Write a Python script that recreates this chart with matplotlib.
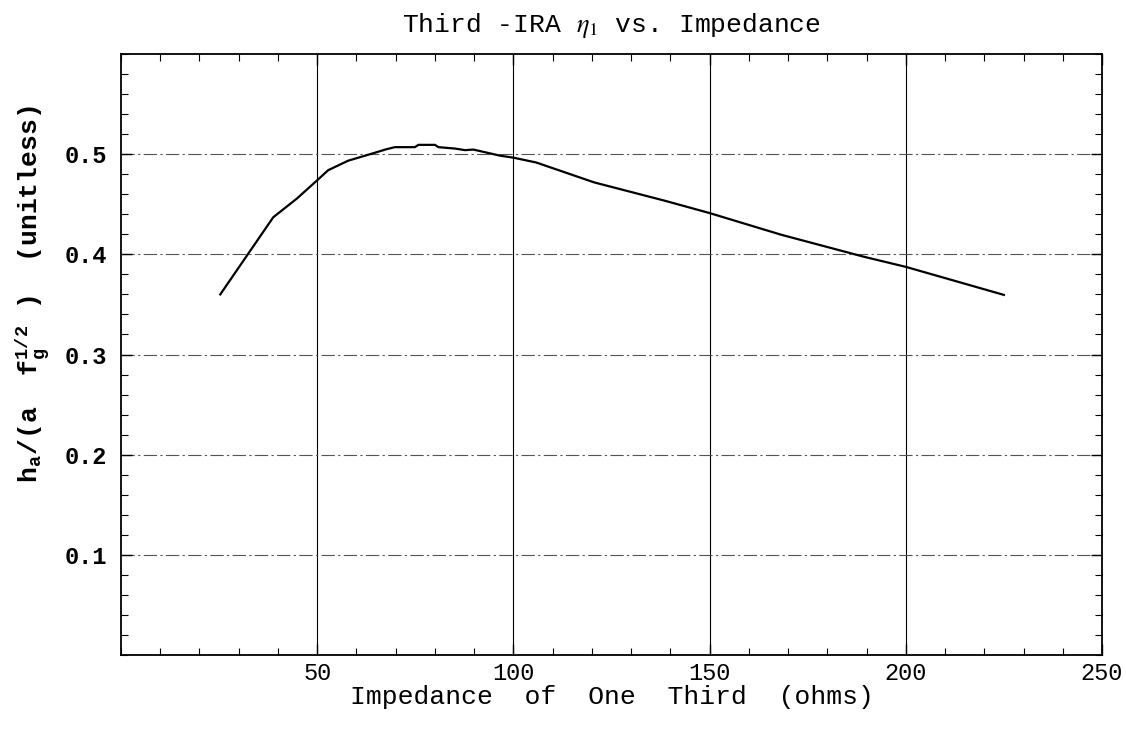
import matplotlib
matplotlib.use("Agg")
import matplotlib.pyplot as plt
from matplotlib.ticker import MultipleLocator, FixedLocator

plt.rcParams['font.family'] = ['Liberation Mono', 'DejaVu Sans']
plt.rcParams['mathtext.fontset'] = 'stix'

# Impedance of one third (ohms) and normalized aperture height
impedance = [25.3, 38.8, 44.8, 50.3, 52.8, 57.9, 63.5, 67.7, 69.8, 74.9, 75.8,
             80.0, 80.9, 85.1, 87.7, 89.8, 96.6, 100.0, 105.8, 120.6, 138.6,
             150.0, 168.3, 189.4, 200.0, 225.0]
ha_norm = [0.360, 0.437, 0.4556, 0.475, 0.484, 0.4935, 0.500, 0.505, 0.507,
           0.507, 0.5093, 0.5093, 0.507, 0.5056, 0.504, 0.5046, 0.4985, 0.4965,
           0.4917, 0.4718, 0.4535, 0.4412, 0.4195, 0.3975, 0.3875, 0.3595]

x_ticks = [50, 100, 150, 200, 250]
y_ticks = [0.1, 0.2, 0.3, 0.4, 0.5]

W, H = 1126, 730
fig = plt.figure(figsize=(W / 100, H / 100), dpi=100)
ax = fig.add_axes([121 / W, 1 - 655 / H, (1102 - 121) / W, (655 - 54) / H])

ax.set_xlim(0, 250)
ax.set_ylim(0, 0.6)

# grid
for xv in x_ticks[:-1]:
    ax.axvline(xv, color='black', lw=0.8, zorder=1)
for yv in y_ticks:
    ax.axhline(yv, color='#555555', lw=0.8, ls=(0, (12, 3, 2, 3)), zorder=1)

ax.plot(impedance, ha_norm, color='black', lw=1.6, zorder=3)

ax.xaxis.set_major_locator(FixedLocator(x_ticks))
ax.yaxis.set_major_locator(FixedLocator(y_ticks))
ax.xaxis.set_minor_locator(MultipleLocator(10))
ax.yaxis.set_minor_locator(MultipleLocator(0.02))
ax.set_xticklabels([str(v) for v in x_ticks])
ax.set_yticklabels([f"{v:.1f}" for v in y_ticks])

ax.tick_params(which='both', direction='in', top=True, right=True, color='black')
ax.tick_params(which='major', length=8, width=1.0, labelsize=17)
ax.tick_params(which='minor', length=5, width=0.8)
ax.tick_params(axis='x', which='major', pad=5)
ax.tick_params(axis='y', which='major', pad=10)
for lab in ax.get_yticklabels():
    lab.set_fontweight('bold')

for sp in ax.spines.values():
    sp.set_linewidth(1.3)
    sp.set_color('black')

ax.set_xlabel('Impedance  of  One  Third  (ohms)', fontsize=19)
ax.xaxis.set_label_coords(0.5, -0.050)

ax.set_ylabel(r'h$_\mathregular{a}$/(a  f$_\mathregular{g}^\mathregular{1/2}$ )  (unitless)',
              fontsize=19, fontweight='bold')
ax.yaxis.set_label_coords(-0.070, 0.60)

ax.set_title(r'Third -IRA $\eta_1$ vs. Impedance', fontsize=19, pad=16)

fig.savefig('out.png', dpi=100)
